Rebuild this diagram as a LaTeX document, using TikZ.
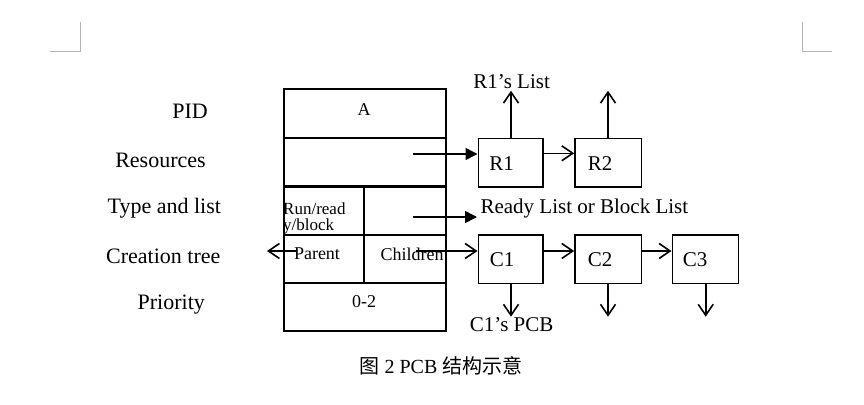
\documentclass[tikz,border=0pt]{standalone}
\usepackage{fontspec}
\setmainfont{Liberation Serif}
\newfontfamily\cjk{Noto Sans CJK SC}
\usetikzlibrary{arrows.meta,positioning}

\tikzset{
  cell/.style={draw, line width=1.6pt, minimum width=161.7pt, minimum height=48.3pt, inner sep=0pt, font=\fontsize{18}{18}\selectfont},
  half/.style={draw, line width=1.6pt, minimum height=48.3pt, inner sep=0pt},
  box/.style={draw, line width=1.6pt, minimum height=48.4pt, inner sep=0pt},
  lab/.style={font=\fontsize{22}{22}\selectfont},
  txt/.style={font=\fontsize{21}{21}\selectfont},
  small/.style={font=\fontsize{18}{15}\selectfont, inner sep=0pt},
  open/.style={-{Straight Barb[length=11pt,width=15pt]}, line width=1.6pt},
  filled/.style={-{Triangle[length=12pt,width=12pt]}, line width=1.6pt}
}

\begin{document}
\begin{tikzpicture}[x=1pt, y=-1pt]
        \useasboundingbox (0,0) rectangle (864,404);

        % page corners
        \draw[gray!60, line width=1pt] (50,52) -- (80,52) -- (80,22);
        \draw[gray!60, line width=1pt] (832,52) -- (802,52) -- (802,22);

        % row labels
        \node[lab] (pidlab) at (190, 111.7) {PID};
        \node[lab] (reslab) at (160.5, 160) {Resources};
        \node[lab] (typelab) at (164.3, 208) {Type and list};
        \node[lab] (treelab) at (163.3, 256.7) {Creation tree};
        \node[lab] (prilab) at (171.3, 305) {Priority};

        % the PCB table
        \node[cell] (pid) at (364.85, 113.3) {};
        \node[cell] (res) at (364.85, 162) {};
        \node[half, minimum width=80pt] (state) at (324, 210.85) {};
        \node[half, minimum width=81.7pt] (list) at (404.85, 210.85) {};
        \node[half, minimum width=80pt] (parent) at (324, 259.15) {};
        \node[half, minimum width=81.7pt] (children) at (404.85, 259.15) {};
        \node[cell] (pri) at (364.85, 307) {};

        \node[cell, draw=none] at (364, 110) {A};
        \node[cell, draw=none] at (364, 302) {0-2};
        \begin{scope}
            \clip (state.south west) rectangle (state.north east);
            \node[small, font=\fontsize{17}{16}\selectfont, anchor=north west, align=left] (statetext) at (283, 203) {Run/read\\y/block};
        \end{scope}
        \node[small] (partext) at (317, 254) {Parent};
        \node[small] (chtext) at (412, 254) {Children};

        % resource list
        \node[box, minimum width=64.4pt] (r1) at (510.5, 162.5) {};
        \node[box, minimum width=66.7pt] (r2) at (608.3, 162.5) {};
        \node[txt] at (501.7, 164) {R1};
        \node[txt] at (600, 164) {R2};

        % child list
        \node[box, minimum width=64.4pt] (c1) at (510.5, 259.2) {};
        \node[box, minimum width=66.7pt] (c2) at (608.3, 259.2) {};
        \node[box, minimum width=66pt] (c3) at (705.3, 259.2) {};
        \node[txt] at (502, 260) {C1};
        \node[txt] at (600, 260) {C2};
        \node[txt] at (695, 260) {C3};

        \node[txt] (r1list) at (511.7, 81.7) {R1’s List};
        \node[txt, anchor=west] (rl) at (477, 208.3) {Ready List or Block List};
        \node[txt] (c1pcb) at (511.7, 325) {C1’s PCB};

        \coordinate (resout) at (412.7, 154);
        \coordinate (listout) at (412.7, 217);
        \coordinate (listin) at (477, 217);
        \coordinate (parout) at (296, 251);
        \coordinate (parend) at (267, 251);
        \coordinate (chout) at (416, 251);
        \coordinate (r1up) at (511, 90.7);
        \coordinate (r2up) at (608, 90.7);
        \coordinate (c1down) at (511, 316.7);
        \coordinate (c2down) at (608, 316.7);
        \coordinate (c3down) at (705.7, 316.7);

        \draw[filled] (resout) -- (resout -| r1.west);
        \draw[filled] (listout) -- (listin);
        \draw[open] (parout) -- (parend);
        \draw[open] (chout) -- (chout -| c1.west);

        \draw[open] (r1.east |- 0,153.3) -- (r2.west |- 0,153.3);
        \draw[open] (c1.east |- 0,251) -- (c2.west |- 0,251);
        \draw[open] (c2.east |- 0,251) -- (c3.west |- 0,251);

        \draw[open] (r1.north -| r1up) -- (r1up);
        \draw[open] (r2.north -| r2up) -- (r2up);
        \draw[open] (c1.south -| c1down) -- (c1down);
        \draw[open] (c2.south -| c2down) -- (c2down);
        \draw[open] (c3.south -| c3down) -- (c3down);

        % caption
        \node[font=\fontsize{20}{20}\selectfont] (caption) at (441, 366) {{\cjk 图} 2 PCB {\cjk 结构示意}};
    \end{tikzpicture}
\end{document}
